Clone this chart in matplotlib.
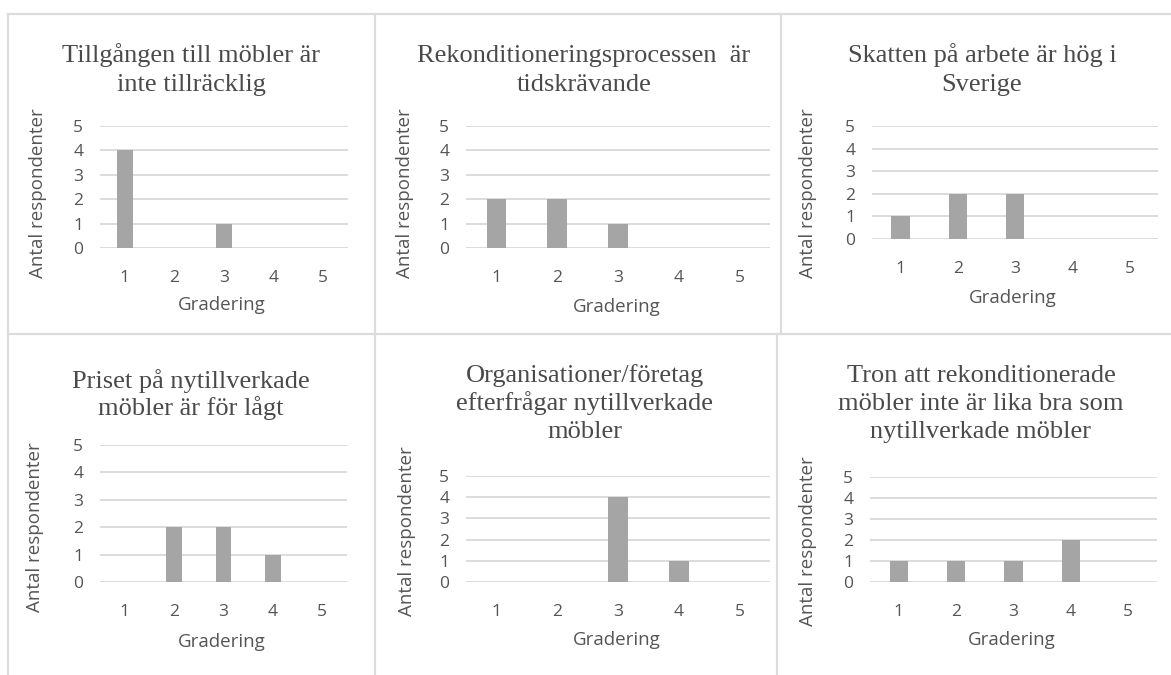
import matplotlib.pyplot as plt
from matplotlib.lines import Line2D

W, H = 1171, 675

grades = [1, 2, 3, 4, 5]
y_ticks = [0, 1, 2, 3, 4, 5]

titles = [
    'Tillgången till möbler är\ninte tillräcklig',
    'Rekonditioneringsprocessen  är\ntidskrävande',
    'Skatten på arbete är hög i\nSverige',
    'Priset på nytillverkade\nmöbler är för lågt',
    'Organisationer/företag\nefterfrågar nytillverkade\nmöbler',
    'Tron att rekonditionerade\nmöbler inte är lika bra som\nnytillverkade möbler',
]

counts_tillgang = [4, 0, 1, 0, 0]
counts_rekond = [2, 2, 1, 0, 0]
counts_skatt = [1, 2, 2, 0, 0]
counts_priset = [0, 2, 2, 1, 0]
counts_org = [0, 0, 4, 1, 0]
counts_tron = [1, 1, 1, 2, 0]
all_counts = [counts_tillgang, counts_rekond, counts_skatt,
              counts_priset, counts_org, counts_tron]

x_label = 'Gradering'
y_label = 'Antal respondenter'

# layout in pixels: plot box (left, top, right, bottom),
# title (centre x, first baseline, line step), y label (x, y), x label (x, y)
panels = [
    dict(box=(100, 126, 348, 248), title=(191, 62, 29), ylab=(38, 193), xlab=(222, 305)),
    dict(box=(466, 126, 770, 248), title=(584, 62, 29), ylab=(405, 193), xlab=(617, 307)),
    dict(box=(872, 126, 1158, 239), title=(982, 62, 29), ylab=(808, 193), xlab=(1013, 298)),
    dict(box=(100, 445, 347, 582), title=(191, 388, 27), ylab=(35, 527), xlab=(222, 642)),
    dict(box=(466, 476, 770, 582), title=(585, 382, 28), ylab=(407, 531), xlab=(617, 640)),
    dict(box=(870, 477, 1157, 582), title=(981, 382, 28), ylab=(808, 541), xlab=(1012, 640)),
]

BAR = '#a5a5a5'
GRID = '#d9d9d9'
TEXT = '#555555'
TITLE = '#4a4a4a'
SANS = 'Open Sans'
SERIF = 'Liberation Serif'


def fx(x):
    return x / W


def fy(y):
    return 1 - y / H


fig = plt.figure(figsize=(W / 100, H / 100), dpi=100)

# panel frame lines
frame = [
    ((8, 14), (1171, 14)),
    ((8, 334), (1171, 334)),
    ((8, 14), (8, 675)),
    ((375, 14), (375, 675)),
    ((781, 14), (781, 334)),
    ((777, 334), (777, 675)),
]
for (x0, y0), (x1, y1) in frame:
    fig.add_artist(Line2D([fx(x0), fx(x1)], [fy(y0), fy(y1)],
                          color='#dcdcdc', lw=1.6))

for counts, title, p in zip(all_counts, titles, panels):
    l, t, r, b = p['box']
    ax = fig.add_axes([fx(l), fy(b), (r - l) / W, (b - t) / H])
    ax.bar(grades, counts, width=0.32, color=BAR, zorder=3)
    ax.set_xlim(0.5, 5.5)
    ax.set_ylim(0, 5)
    ax.set_xticks(grades)
    ax.set_yticks(y_ticks)
    ax.grid(axis='y', color=GRID, lw=1.3, zorder=0)
    ax.set_axisbelow(True)
    for s in ax.spines.values():
        s.set_visible(False)
    ax.tick_params(axis='x', length=0, pad=16, labelsize=12.5, labelcolor=TEXT)
    ax.tick_params(axis='y', length=0, pad=12, labelsize=12.5, labelcolor=TEXT)
    for lab in ax.get_xticklabels() + ax.get_yticklabels():
        lab.set_family(SANS)

    cx, base, step = p['title']
    for i, line in enumerate(title.split('\n')):
        fig.text(fx(cx), fy(base + i * step), line, ha='center', va='baseline',
                 fontsize=19, family=SERIF, color=TITLE)

    fig.text(fx(p['ylab'][0]), fy(p['ylab'][1]), y_label, rotation=90,
             ha='center', va='center', fontsize=13.5, family=SANS, color=TEXT)
    fig.text(fx(p['xlab'][0]), fy(p['xlab'][1]), x_label,
             ha='center', va='center', fontsize=13.5, family=SANS, color=TEXT)

fig.savefig('out.png', dpi=100)
